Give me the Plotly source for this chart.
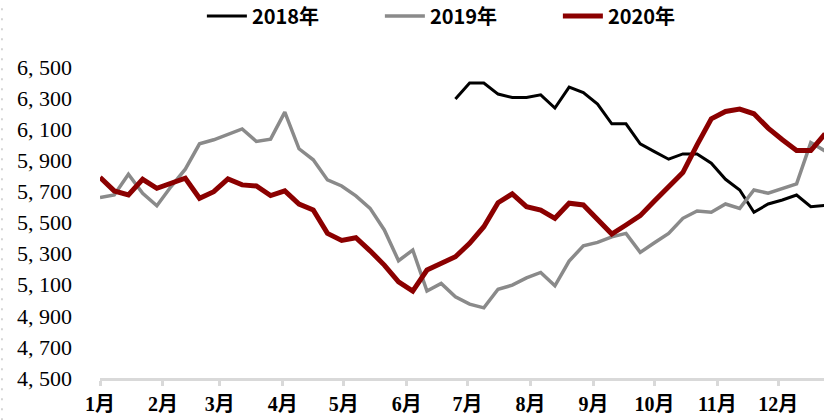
import pandas as pd
import plotly.graph_objects as go

# Weekly observations placed on a common calendar year
weeks = pd.date_range("2019-01-01", periods=52, freq="7D")

month_labels = ["1月", "2月", "3月", "4月", "5月", "6月",
                "7月", "8月", "9月", "10月", "11月", "12月"]
month_starts = pd.date_range("2019-01-01", periods=12, freq="MS")

y_ticks = [4500, 4700, 4900, 5100, 5300, 5500, 5700, 5900, 6100, 6300, 6500]
y_tick_text = ["4, 500", "4, 700", "4, 900", "5, 100", "5, 300", "5, 500",
               "5, 700", "5, 900", "6, 100", "6, 300", "6, 500"]

# 2018 series starts in late June (week 25)
start_2018 = 25
price_2018 = [6294, 6397, 6397, 6326, 6304, 6304, 6321, 6236, 6371, 6336,
              6262, 6135, 6135, 6006, 5956, 5907, 5941, 5941, 5881, 5778,
              5709, 5566, 5619, 5645, 5677, 5602, 5610]

price_2019 = [5660, 5677, 5810, 5688, 5608, 5731, 5843, 6006, 6032, 6068,
              6102, 6021, 6036, 6210, 5974, 5903, 5774, 5735, 5671, 5591,
              5452, 5254, 5323, 5059, 5108, 5022, 4975, 4951, 5071, 5097,
              5144, 5179, 5093, 5252, 5350, 5372, 5408, 5430, 5308, 5370,
              5430, 5527, 5574, 5566, 5619, 5591, 5709, 5688, 5720, 5748,
              6014, 5960]

price_2020 = [5790, 5703, 5677, 5778, 5720, 5753, 5785, 5656, 5698, 5780,
              5742, 5735, 5673, 5703, 5619, 5580, 5430, 5385, 5402, 5318,
              5226, 5119, 5059, 5194, 5237, 5280, 5366, 5473, 5627, 5684,
              5602, 5580, 5527, 5624, 5613, 5516, 5426, 5484, 5544, 5638,
              5731, 5821, 5999, 6167, 6214, 6229, 6199, 6107, 6032, 5963,
              5963, 6070]

fig = go.Figure()
fig.add_trace(go.Scatter(x=weeks[start_2018:start_2018 + len(price_2018)], y=price_2018,
                         mode="lines", name="2018年",
                         line=dict(color="#000000", width=3)))
fig.add_trace(go.Scatter(x=weeks[:len(price_2019)], y=price_2019,
                         mode="lines", name="2019年",
                         line=dict(color="#8a8a8a", width=3.5)))
fig.add_trace(go.Scatter(x=weeks[:len(price_2020)], y=price_2020,
                         mode="lines", name="2020年",
                         line=dict(color="#8b0000", width=5)))

label_font = "Liberation Serif, Noto Sans CJK SC"

fig.update_layout(
    width=824, height=420,
    margin=dict(l=100, r=0, t=67, b=42),
    paper_bgcolor="white", plot_bgcolor="white",
    showlegend=True,
    legend=dict(orientation="h", xref="container", yref="container",
                x=0.245, xanchor="left", y=0.962, yanchor="middle",
                font=dict(family="Liberation Sans Narrow, Noto Sans CJK SC", size=20,
                          color="#000", weight="bold"),
                entrywidth=123, entrywidthmode="pixels", itemwidth=40,
                bgcolor="rgba(0,0,0,0)"),
    xaxis=dict(type="date", range=["2019-01-01", "2019-12-23 12:00"],
               tickvals=month_starts, ticktext=month_labels,
               showline=True, linecolor="#d9d9d9", linewidth=3,
               ticks="outside", ticklen=5, tickwidth=3, tickcolor="#d9d9d9",
               showgrid=False, zeroline=False,
               tickfont=dict(family=label_font, size=20, color="#000", weight="bold"),
               ticklabelstandoff=1),
    yaxis=dict(range=[4500, 6500], tickvals=y_ticks, ticktext=y_tick_text,
               showline=False, showgrid=False, zeroline=False, ticks="",
               tickfont=dict(family="Liberation Serif", size=22, color="#000"),
               ticklabelstandoff=27),
    shapes=[dict(type="line", xref="paper", yref="paper",
                 x0=-0.1354, x1=-0.1354, y0=-0.136, y1=1.214,
                 line=dict(color="#c8c8c8", width=1.5, dash="2px,8px"))],
)

fig.write_html("out.html")
